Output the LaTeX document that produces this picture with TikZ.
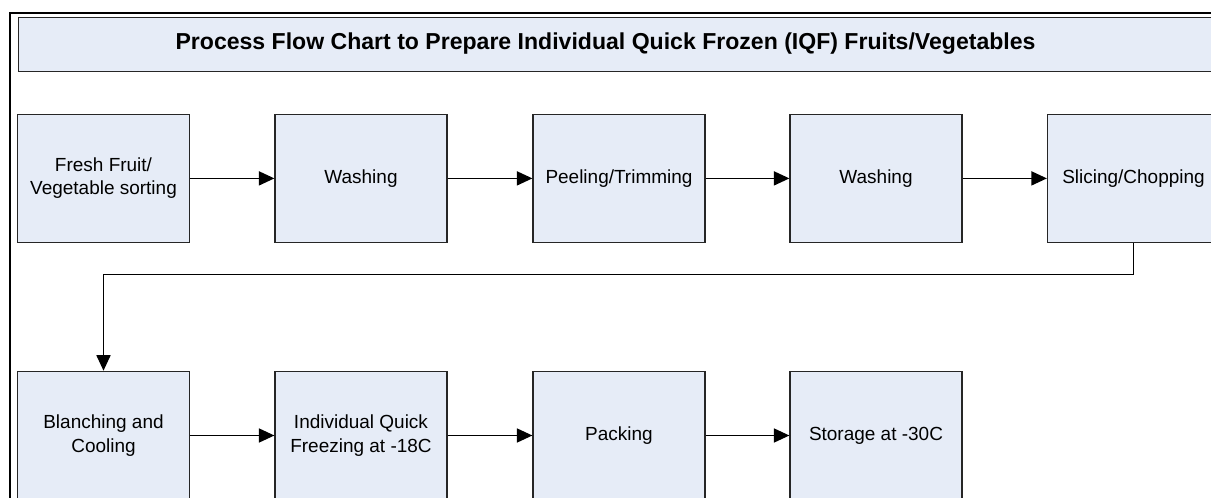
\documentclass[tikz,border=0pt]{standalone}
\usepackage{fontspec}
\setmainfont{Liberation Sans}
\usetikzlibrary{arrows.meta,positioning}

\definecolor{boxfill}{HTML}{E6ECF7}
\definecolor{boxline}{HTML}{262626}

\tikzset{
  stepbox/.style={draw=boxline,fill=boxfill,line width=0.85pt,
    minimum width=4.3cm,minimum height=3.21cm,align=center,
    font=\fontsize{13.5}{16.5}\selectfont,inner sep=2pt},
  flow/.style={line width=1pt,-{Triangle[length=11pt,width=10pt]}}
}

\begin{document}
\begin{tikzpicture}[x=0.025cm,y=-0.025cm]
  \path[use as bounding box] (0,0) rectangle (1211,498);
  \clip (0,0) rectangle (1211,498);
  % frame and title
  \draw[line width=1.5pt] (10,13) rectangle (1240,530);
  \node[draw=boxline,fill=boxfill,line width=0.85pt,anchor=north west,
    minimum width=30.5cm,minimum height=1.35cm] (titlebox) at (17.5,17) {};
  \node[font=\fontsize{16.4}{19}\selectfont\bfseries] (title) at (605.5,44)
    {Process Flow Chart to Prepare Individual Quick Frozen (IQF) Fruits/Vegetables};
  % first row
  \node[stepbox] (sort) at (103.5,178.4) {Fresh Fruit/\\Vegetable sorting};
  \node[stepbox] (wash1) at (361,178.4) {Washing};
  \node[stepbox] (peel) at (619,178.4) {Peeling/Trimming};
  \node[stepbox] (wash2) at (876,178.4) {Washing};
  \node[stepbox] (slice) at (1133.5,178.4) {Slicing/Chopping};
  % second row
  \node[stepbox] (blanch) at (103.5,435.5) {Blanching and\\Cooling};
  \node[stepbox] (iqf) at (361,435.5) {Individual Quick\\Freezing at -18C};
  \node[stepbox] (pack) at (619,435.5) {Packing};
  \node[stepbox] (store) at (876,435.5) {Storage at -30C};
  % connectors
  \draw[flow] (sort) -- (wash1);
  \draw[flow] (wash1) -- (peel);
  \draw[flow] (peel) -- (wash2);
  \draw[flow] (wash2) -- (slice);
  \coordinate (turnR) at (1133.5,274.3);
  \coordinate (turnL) at (103.5,274.3);
  \draw[flow] (slice.south) -- (turnR) -- (turnL) -- (blanch.north);
  \draw[flow] (blanch) -- (iqf);
  \draw[flow] (iqf) -- (pack);
  \draw[flow] (pack) -- (store);
\end{tikzpicture}
\end{document}
